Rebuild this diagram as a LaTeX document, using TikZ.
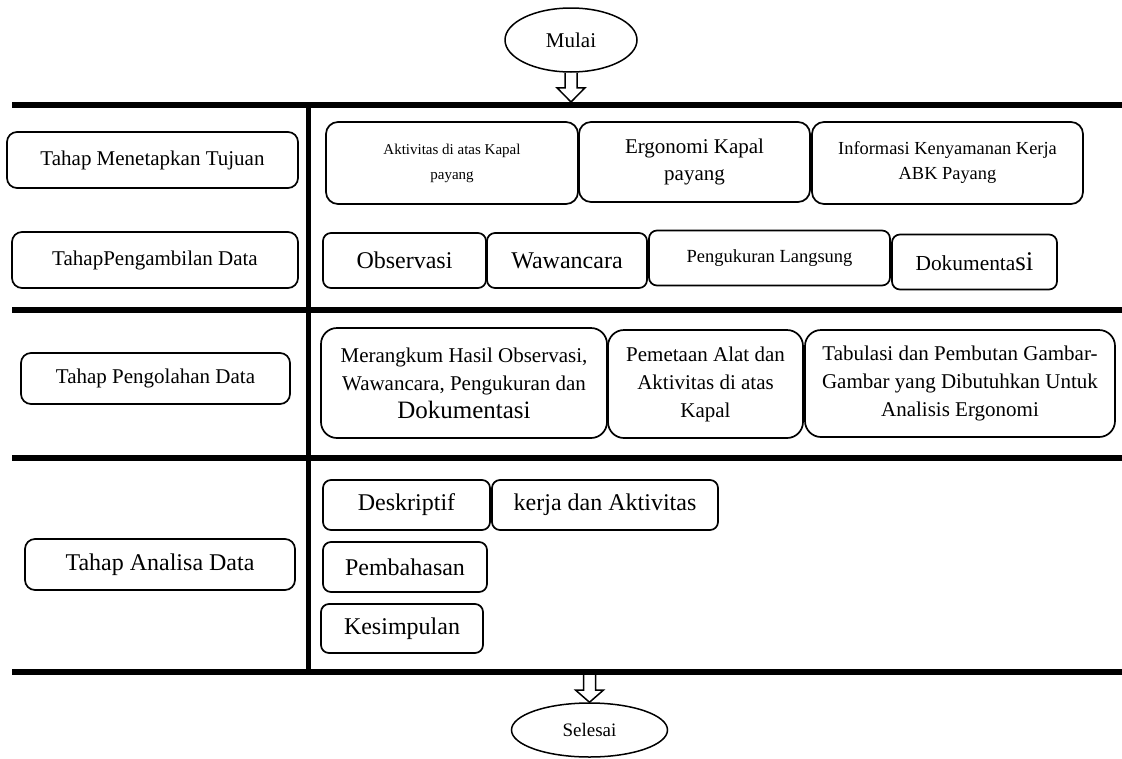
\documentclass[tikz,border=0pt]{standalone}
\usepackage{fontspec}
\setmainfont{Liberation Serif}
\usetikzlibrary{calc,shapes.geometric}
\pgfdeclarelayer{edgelayer}
\pgfdeclarelayer{nodelayer}
\pgfsetlayers{edgelayer,nodelayer,main}
\tikzstyle{none}=[]
\tikzstyle{terminal}=[draw, ellipse, line width=1.5pt, inner sep=0pt, font=\fontsize{21}{25}\selectfont]
\tikzstyle{phase}=[draw, rounded corners=10pt, line width=1.7pt, inner sep=0pt, align=center, font=\fontsize{21}{25}\selectfont]
\tikzstyle{rule}=[line width=6pt]
\tikzstyle{divider}=[line width=5pt]
\tikzstyle{hollow arrow}=[draw, line width=1.5pt, line join=miter]

\begin{document}
\begin{tikzpicture}[x=1pt, y=-1pt]
	\useasboundingbox (0,0) rectangle (1122,758);
	\begin{pgfonlayer}{nodelayer}
		\node [style=terminal, minimum width=132pt, minimum height=64pt] (0) at (571, 40) {Mulai};
		\node [style=terminal, minimum width=156pt, minimum height=54pt, font=\fontsize{19}{22}\selectfont] (1) at (589.5, 730) {Selesai};
		\node [style=phase, minimum width=291pt, minimum height=56pt] (2) at (152.5, 160) {Tahap Menetapkan Tujuan};
		\node [style=phase, minimum width=286pt, minimum height=56pt] (3) at (155, 260) {TahapPengambilan Data};
		\node [style=phase, minimum width=269pt, minimum height=51pt] (4) at (155.5, 378.5) {Tahap Pengolahan Data};
		\node [style=phase, minimum width=270pt, minimum height=51pt, font=\fontsize{24}{28}\selectfont] (5) at (160, 564.5) {Tahap Analisa Data};
		\node [style=phase, rounded corners=12pt, minimum width=252pt, minimum height=82pt, font=\fontsize{15}{25}\selectfont] (6) at (452, 163) {Aktivitas di atas Kapal\\payang};
		\node [style=phase, rounded corners=12pt, minimum width=231pt, minimum height=80pt, font=\fontsize{21}{27}\selectfont] (7) at (694.5, 162) {Ergonomi Kapal\\payang};
		\node [style=phase, rounded corners=12pt, minimum width=271pt, minimum height=82pt, font=\fontsize{18.4}{25}\selectfont] (8) at (947.5, 163) {Informasi Kenyamanan Kerja\\ABK Payang};
		\node [style=phase, rounded corners=8pt, minimum width=163pt, minimum height=55pt, font=\fontsize{24}{28}\selectfont] (9) at (404.5, 260.5) {Observasi};
		\node [style=phase, rounded corners=8pt, minimum width=160pt, minimum height=55pt, font=\fontsize{24}{28}\selectfont] (10) at (567, 260.5) {Wawancara};
		\node [style=phase, rounded corners=8pt, minimum width=241pt, minimum height=55pt, font=\fontsize{18.5}{22}\selectfont] (11) at (769.5, 258) {Pengukuran Langsung};
		\node [style=phase, rounded corners=8pt, minimum width=165pt, minimum height=55pt, font=\fontsize{21.4}{25}\selectfont] (12) at (974.5, 262) {Dokumenta{\fontsize{27}{27}\selectfont si}};
		\node [style=phase, rounded corners=16pt, minimum width=286pt, minimum height=110pt, font=\fontsize{21}{28}\selectfont] (13) at (464, 383) {Merangkum Hasil Observasi,\\Wawancara, Pengukuran dan\\{\fontsize{25}{28}\selectfont Dokumentasi}};
		\node [style=phase, rounded corners=16pt, minimum width=195pt, minimum height=108pt, font=\fontsize{21}{28}\selectfont] (14) at (705.5, 384) {Pemetaan Alat dan\\Aktivitas di atas\\Kapal};
		\node [style=phase, rounded corners=16pt, minimum width=310pt, minimum height=107pt, font=\fontsize{21}{28}\selectfont] (15) at (960, 383.5) {Tabulasi dan Pembutan Gambar-\\Gambar yang Dibutuhkan Untuk\\Analisis Ergonomi};
		\node [style=phase, rounded corners=8pt, minimum width=167pt, minimum height=50pt, font=\fontsize{24}{28}\selectfont] (16) at (406.5, 505) {Deskriptif};
		\node [style=phase, rounded corners=8pt, minimum width=226pt, minimum height=50pt, font=\fontsize{24}{28}\selectfont] (17) at (605, 505) {kerja dan Aktivitas};
		\node [style=phase, rounded corners=8pt, minimum width=164pt, minimum height=50pt, font=\fontsize{24}{28}\selectfont] (18) at (405, 567) {Pembahasan};
		\node [style=phase, rounded corners=8pt, minimum width=162pt, minimum height=49pt, font=\fontsize{24}{28}\selectfont] (19) at (402, 628.5) {Kesimpulan};
		\coordinate (20) at (12, 105);
		\coordinate (21) at (1122, 105);
		\coordinate (22) at (12, 310);
		\coordinate (23) at (1122, 310);
		\coordinate (24) at (12, 458);
		\coordinate (25) at (1122, 458);
		\coordinate (26) at (12, 672);
		\coordinate (27) at (1122, 672);
		\coordinate (28) at (308, 105);
		\coordinate (29) at (308, 672);
		\coordinate (30) at (589.5, 675);
	\end{pgfonlayer}
	\begin{pgfonlayer}{edgelayer}
		\draw [style=rule] (20) to (21);
		\draw [style=rule] (22) to (23);
		\draw [style=rule] (24) to (25);
		\draw [style=rule] (26) to (27);
		\draw [style=divider] (28) to (29);
		\draw [style=hollow arrow] ($(0.south)+(-6,0)$) -- ($(0.south)+(-6,15)$) -- ($(0.south)+(-14,15)$) -- ($(0.south |- 20)+(0,-3)$) -- ($(0.south)+(14,15)$) -- ($(0.south)+(6,15)$) -- ($(0.south)+(6,0)$);
		\draw [style=hollow arrow] ($(30)+(-6,0)$) -- ($(30)+(-6,15)$) -- ($(30)+(-14,15)$) -- (1.north) -- ($(30)+(14,15)$) -- ($(30)+(6,15)$) -- ($(30)+(6,0)$);
	\end{pgfonlayer}
\end{tikzpicture}
\end{document}
